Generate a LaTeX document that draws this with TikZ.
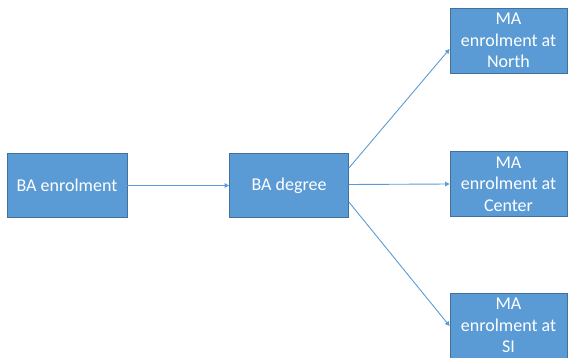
\documentclass[tikz,border=0pt]{standalone}
\usepackage{fontspec}
\setmainfont{Carlito}
\usetikzlibrary{arrows.meta}
\definecolor{boxfill}{HTML}{5B9BD5}
\definecolor{boxline}{HTML}{41719C}
\definecolor{arrcol}{HTML}{5B9BD5}
\begin{document}
\begin{tikzpicture}[x=1pt,y=-1pt,
  bluebox/.style={draw=boxline, fill=boxfill, line width=0.8pt, text=white,
    font=\fontsize{18}{21.5}\selectfont, align=center, inner sep=0pt,
    minimum height=64pt},
  arr/.style={draw=arrcol, line width=0.9pt, -{Triangle[length=4.5pt,width=4.5pt]}}]
\useasboundingbox (0,0) rectangle (568,358);
\node[bluebox, minimum width=120pt] (ba) at (67,185.5) {BA enrolment};
\node[bluebox, minimum width=119pt] (deg) at (289,185.5) {BA degree};
\node[bluebox, minimum width=117pt, minimum height=65pt] (north) at (508.5,40.5) {MA\\enrolment at\\North};
\node[bluebox, minimum width=117pt, minimum height=65pt] (cen) at (508.5,184) {MA\\enrolment at\\Center};
\node[bluebox, minimum width=117pt, minimum height=65pt] (si) at (508.5,325.5) {MA\\enrolment at\\SI};
\draw[arr] (ba.east) -- (deg.west);
\draw[arr] ([yshift=17.5pt]deg.east) -- ([yshift=-8.5pt]north.west);
\draw[arr] ([yshift=1pt]deg.east) -- (cen.west);
\draw[arr] ([yshift=-16.5pt]deg.east) -- ([yshift=-0.5pt]si.west);
\end{tikzpicture}
\end{document}
